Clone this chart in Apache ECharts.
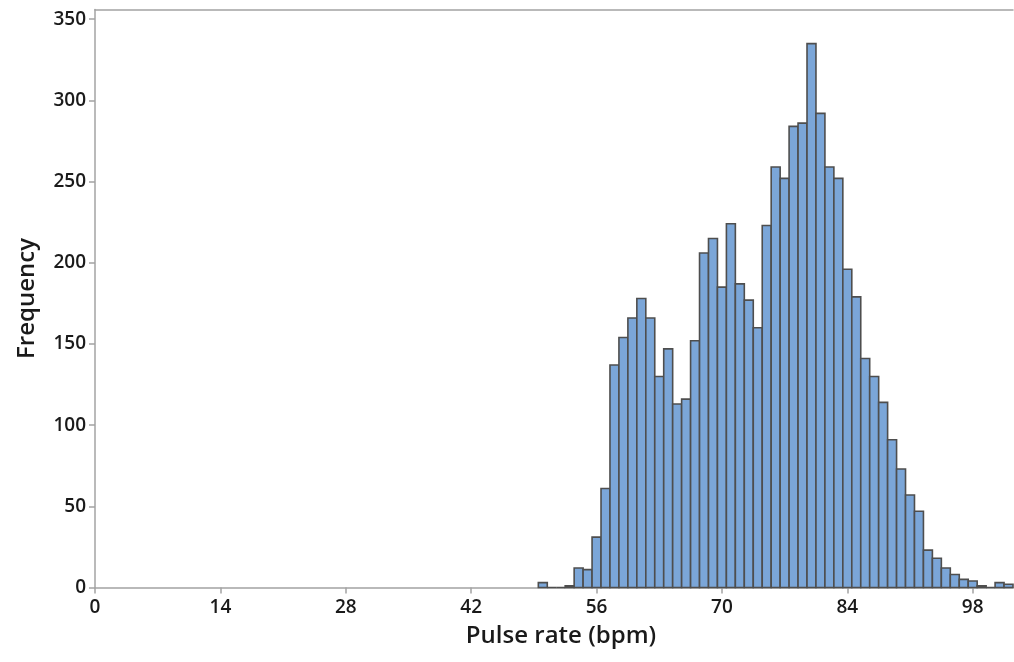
<!DOCTYPE html>
<html>
<head>
<meta charset="utf-8">
<script src="https://cdn.jsdelivr.net/npm/echarts@6/dist/echarts.min.js"></script>
<style>
html,body{margin:0;padding:0;background:#fff;}
#chart{width:1014px;height:662px;}
</style>
</head>
<body>
<div id="chart"></div>
<script>
// Bin centres (bpm), width 1
const binCenters = [50,51,52,53,54,55,56,57,58,59,60,61,62,63,64,65,66,67,68,69,70,71,72,73,74,75,76,77,78,79,80,81,82,83,84,85,86,87,88,89,90,91,92,93,94,95,96,97,98,99,100,101,102];
const frequencies = [3,0,0,1,12,11,31,61,137,154,166,178,166,130,147,113,116,152,206,215,185,224,187,177,160,223,259,252,284,286,335,292,259,252,196,179,141,130,114,91,73,57,47,23,18,12,8,5,4,1,0,3,2];
const xTicks = [0,14,28,42,56,70,84,98];
const yTicks = [0,50,100,150,200,250,300,350];

const chart = echarts.init(document.getElementById('chart'), null, {renderer:'canvas'});
const FONT = '"Open Sans", "Noto Sans", sans-serif';
const axisColor = '#a3a3a3';
const textColor = '#1a1a1a';

chart.setOption({
  animation: false,
  backgroundColor: '#ffffff',
  grid: {left: 95, right: 1, top: 9.5, bottom: 74.5, containLabel: false, show: false},
  xAxis: [{
    type: 'value', min: 0, max: 102.5, interval: 14,
    name: 'Pulse rate (bpm)', nameLocation: 'middle', nameGap: 37,
    nameTextStyle: {fontFamily: FONT, fontSize: 24, fontWeight: 600, color: textColor, padding: [0, 0, 0, 14]},
    axisLine: {show: true, onZero: false, lineStyle: {color: axisColor, width: 1.5}},
    axisTick: {show: true, length: 6, customValues: xTicks, lineStyle: {color: axisColor, width: 1.5}},
    axisLabel: {customValues: xTicks, fontFamily: FONT, fontSize: 19, fontWeight: 600, color: textColor, margin: 11},
    splitLine: {show: false}
  }, {
    type: 'value', position: 'top', min: 0, max: 102.5,
    axisLine: {show: true, onZero: false, lineStyle: {color: axisColor, width: 1.5}},
    axisTick: {show: false}, axisLabel: {show: false}, splitLine: {show: false}
  }],
  yAxis: {
    type: 'value', min: 0, max: 356, interval: 50,
    name: 'Frequency', nameLocation: 'middle', nameGap: 56, nameRotate: 90,
    nameTextStyle: {fontFamily: FONT, fontSize: 24, fontWeight: 600, color: textColor},
    axisLine: {show: true, onZero: false, lineStyle: {color: axisColor, width: 1.5}},
    axisTick: {show: true, length: 6, customValues: yTicks, lineStyle: {color: axisColor, width: 1.5}},
    axisLabel: {customValues: yTicks, fontFamily: FONT, fontSize: 19, fontWeight: 600, color: textColor, margin: 9},
    splitLine: {show: false}
  },
  series: [{
    type: 'custom',
    xAxisIndex: 0,
    data: binCenters.map((c, i) => [c, frequencies[i]]),
    renderItem: function (params, api) {
      const c = api.value(0), v = api.value(1);
      const p0 = api.coord([c - 0.5, v]);
      const p1 = api.coord([c + 0.5, 0]);
      return {
        type: 'rect',
        shape: {x: p0[0], y: p0[1], width: p1[0] - p0[0], height: p1[1] - p0[1]},
        style: {fill: '#7ba6d8', stroke: '#4e4e4e', lineWidth: 1.6}
      };
    }
  }]
});
</script>
</body>
</html>
